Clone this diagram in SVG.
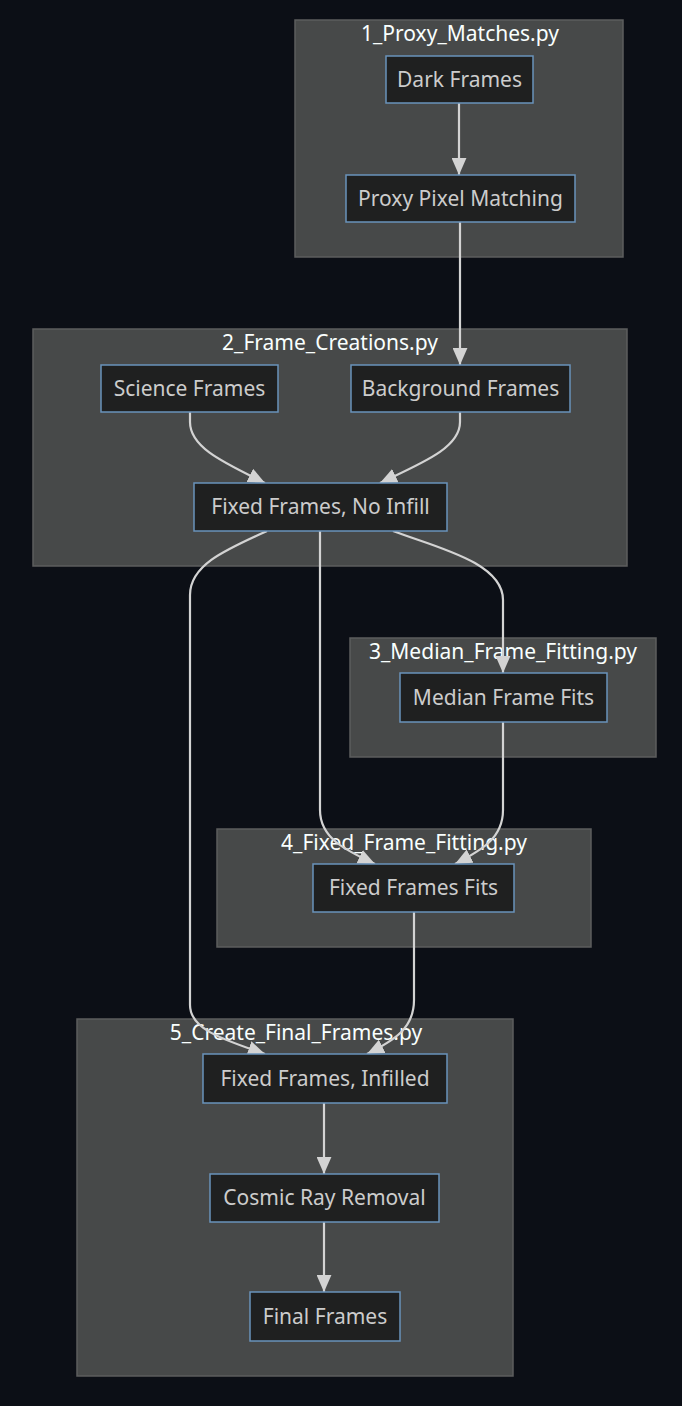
<svg xmlns="http://www.w3.org/2000/svg" width="682" height="1406" viewBox="0 0 682 1406">
<defs>
<style>
.cluster rect{fill:#474949;stroke:#5c5e5e;stroke-width:1.5}
.cluster text{fill:#f9fffe;font-family:"Noto Sans","DejaVu Sans",sans-serif;font-size:21px;text-anchor:middle}
.node rect{fill:#1f2020;stroke:#6a93bb;stroke-width:1.5}
.node text{fill:#cccccc;font-family:"Noto Sans","DejaVu Sans",sans-serif;font-size:21px;text-anchor:middle}
.edges path{fill:none;stroke:#d3d3d3;stroke-width:2.2}
</style>
<marker id="arrow" viewBox="0 0 16 14" refX="16" refY="7" markerUnits="userSpaceOnUse" markerWidth="17" markerHeight="15" orient="auto">
<path d="M0,0 L16,7 L0,14 z" fill="#d3d3d3"/>
</marker>
</defs>
<rect x="0" y="0" width="682" height="1406" fill="#0c0f16"/>
<g id="cluster1" class="cluster"><rect x="295" y="20" width="328" height="237"/><text x="460" y="41">1_Proxy_Matches.py</text></g>
<g id="cluster2" class="cluster"><rect x="33" y="329" width="594" height="237"/><text x="330" y="350">2_Frame_Creations.py</text></g>
<g id="cluster3" class="cluster"><rect x="350" y="638" width="306" height="119"/><text x="503" y="659">3_Median_Frame_Fitting.py</text></g>
<g id="cluster4" class="cluster"><rect x="217" y="829" width="374" height="118"/><text x="404" y="850">4_Fixed_Frame_Fitting.py</text></g>
<g id="cluster5" class="cluster"><rect x="77" y="1019" width="436" height="357"/><text x="296" y="1040">5_Create_Final_Frames.py</text></g>
<g class="edges" id="edges">
<path d="M459,103 L459,175" marker-end="url(#arrow)"/>
<path d="M460,222 L460,365" marker-end="url(#arrow)"/>
<path d="M190,412 L190,422 C190,448 225,463 265,483" marker-end="url(#arrow)"/>
<path d="M460,412 L460,422 C460,448 422,463 380,483" marker-end="url(#arrow)"/>
<path d="M267,531 C225,550 190,565 190,595 L190,1005 C190,1030 225,1040 265,1054" marker-end="url(#arrow)"/>
<path d="M320,531 L320,810 C320,838 345,850 375,864" marker-end="url(#arrow)"/>
<path d="M393,531 C435,547 503,562 503,600 L503,673" marker-end="url(#arrow)"/>
<path d="M503,722 L503,810 C503,838 482,850 455,864" marker-end="url(#arrow)"/>
<path d="M414,912 L414,1000 C414,1028 395,1040 367,1054" marker-end="url(#arrow)"/>
<path d="M324,1103 L324,1174" marker-end="url(#arrow)"/>
<path d="M324,1222 L324,1292" marker-end="url(#arrow)"/>
</g>
<g id="dark" class="node"><rect x="386" y="56" width="147" height="47"/><text x="459.5" y="86.5">Dark Frames</text></g>
<g id="proxy" class="node"><rect x="346" y="175" width="229" height="47"/><text x="460.5" y="205.5">Proxy Pixel Matching</text></g>
<g id="science" class="node"><rect x="101" y="365" width="177" height="47"/><text x="189.5" y="395.5">Science Frames</text></g>
<g id="background" class="node"><rect x="351" y="365" width="219" height="47"/><text x="460.5" y="395.5">Background Frames</text></g>
<g id="noinfill" class="node"><rect x="194" y="483" width="253" height="48"/><text x="320.5" y="514">Fixed Frames, No Infill</text></g>
<g id="median" class="node"><rect x="400" y="673" width="207" height="49"/><text x="503.5" y="704.5">Median Frame Fits</text></g>
<g id="fits" class="node"><rect x="313" y="864" width="201" height="48"/><text x="413.5" y="895">Fixed Frames Fits</text></g>
<g id="infilled" class="node"><rect x="203" y="1054" width="244" height="49"/><text x="325" y="1085.5">Fixed Frames, Infilled</text></g>
<g id="cosmic" class="node"><rect x="210" y="1174" width="229" height="48"/><text x="324.5" y="1205">Cosmic Ray Removal</text></g>
<g id="final" class="node"><rect x="250" y="1292" width="150" height="49"/><text x="325" y="1323.5">Final Frames</text></g>
</svg>
